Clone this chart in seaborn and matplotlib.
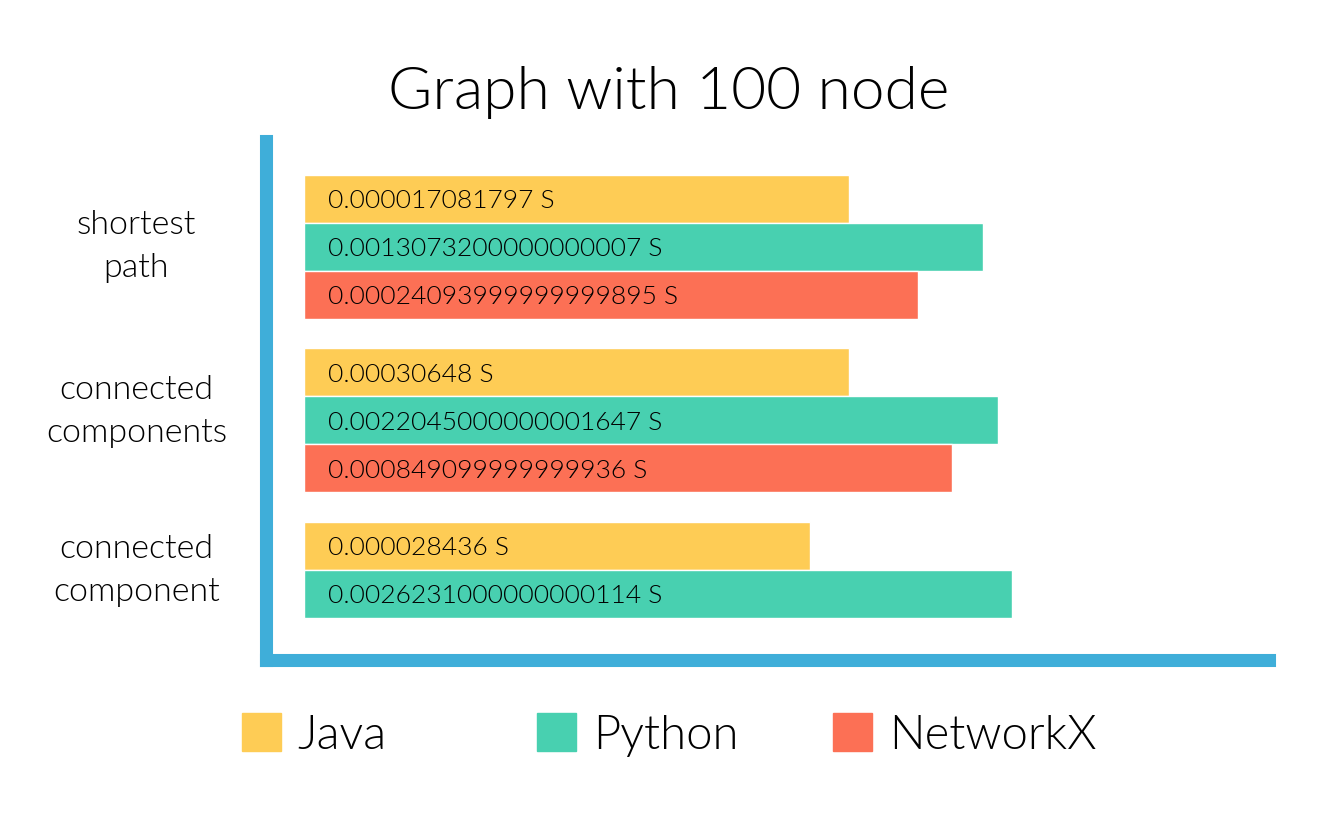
import pandas as pd
import seaborn as sns
import matplotlib.pyplot as plt
from matplotlib.patches import Patch

tasks = ["shortest\npath", "connected\ncomponents", "connected\ncomponent"]
langs = ["Java", "Python", "NetworkX"]
colors = ["#FECC55", "#48D0B0", "#FC7055"]

# bar lengths as drawn in the infographic (not proportional to the times)
java_len = [545, 545, 506]
python_len = [679, 694, 708]
networkx_len = [614, 648]

java_txt = ["0.000017081797 S", "0.00030648 S", "0.000028436 S"]
python_txt = ["0.0013073200000000007 S", "0.0022045000000001647 S", "0.0026231000000000114 S"]
networkx_txt = ["0.00024093999999999895 S", "0.000849099999999936 S"]

rows = []
for lang, lens, txts in [("Java", java_len, java_txt),
                         ("Python", python_len, python_txt),
                         ("NetworkX", networkx_len, networkx_txt)]:
    for t, l, s in zip(tasks, lens, txts):
        rows.append({"task": t, "lang": lang, "length": l, "label": s})
df = pd.DataFrame(rows)

sns.set_theme(style="white")
plt.rcParams['font.family'] = ['Lato', 'DejaVu Sans']
plt.rcParams['font.weight'] = 300

fig = plt.figure(figsize=(13.2, 8.25), dpi=100)
ax = fig.add_axes([265.5/1320, 165/825, 1003/1320, 518.5/825])

sns.barplot(data=df, y="task", x="length", hue="lang", order=tasks,
            hue_order=langs, palette=colors, orient="h", width=0.83,
            saturation=1, edgecolor="white", linewidth=1, legend=False, ax=ax)

for lang, container in zip(langs, ax.containers):
    sub = df[df["lang"] == lang]
    for bar, s in zip(container, sub["label"]):
        ax.text(bar.get_x() + 24, bar.get_y() + bar.get_height()/2, s,
                ha="left", va="center_baseline", fontsize=19, color="#000000")

ax.set_xlim(-38.5, 964)
ax.set_ylim(2.38, -0.605)
ax.set_xticks([])
ax.set_yticks([-0.055, 0.895, 1.81])
ax.set_yticklabels(tasks, fontsize=24.5, color="#000000")
for lab in ax.get_yticklabels():
    lab.set_ha("center")
    lab.set_multialignment("center")
    lab.set_linespacing(1.55)
ax.tick_params(axis="y", length=0, pad=93)
ax.set_xlabel("")
ax.set_ylabel("")

for side in ["top", "right"]:
    ax.spines[side].set_visible(False)
for side in ["left", "bottom"]:
    ax.spines[side].set_color("#3FAED9")
    ax.spines[side].set_linewidth(9.4)
    ax.spines[side].set_capstyle("projecting")

fig.text(669/1320, (825-109)/825, "Graph with 100 node", ha="center",
         va="baseline", fontsize=43.5, color="#000000")

for x, lang, c in zip([242, 537, 833], langs, colors):
    fig.legend(handles=[Patch(color=c, label=lang)], loc="center left",
               bbox_to_anchor=(x/1320, 90/825), frameon=False, fontsize=34,
               handlelength=0.83, handleheight=0.85, handletextpad=0.35,
               borderpad=0, borderaxespad=0, labelcolor="#000000")

fig.savefig("out.png", dpi=100, facecolor="white")
